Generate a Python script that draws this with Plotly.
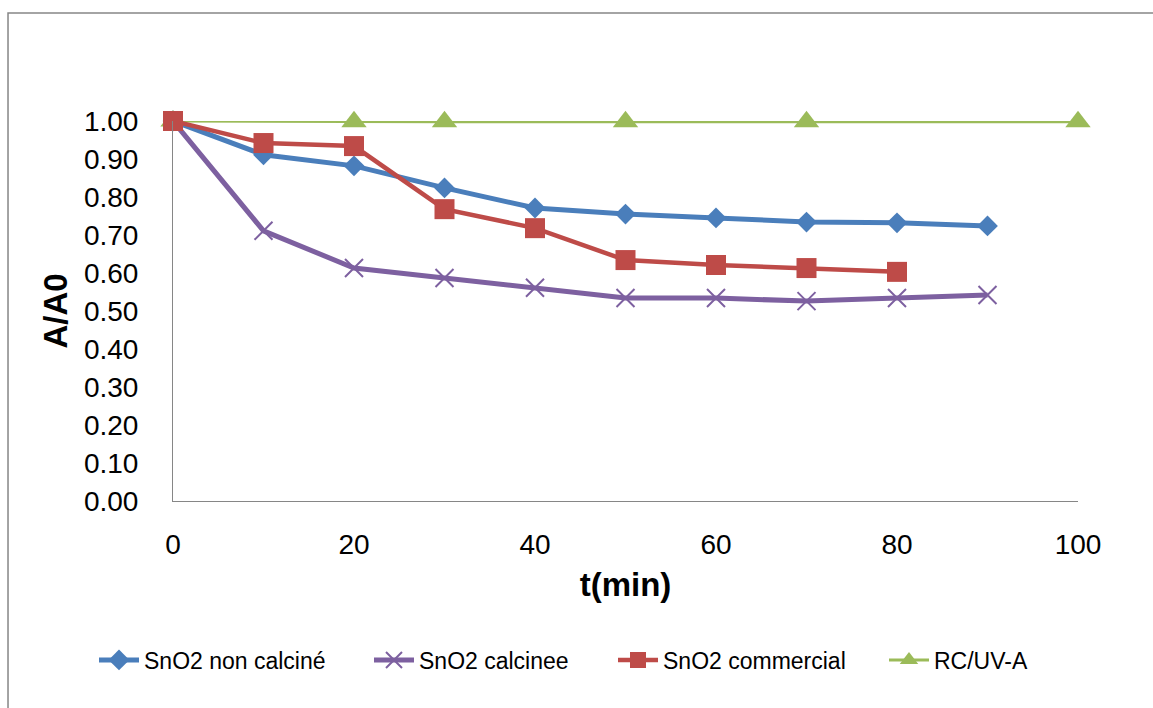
import plotly.graph_objects as go

t_main = [0, 10, 20, 30, 40, 50, 60, 70, 80, 90]
t_comm = [0, 10, 20, 30, 40, 50, 60, 70, 80]
t_rc = [0, 20, 30, 50, 70, 100]

non_calcine = [1.00, 0.911, 0.882, 0.824, 0.771, 0.755, 0.745, 0.734, 0.732, 0.724]
calcinee = [1.00, 0.711, 0.613, 0.587, 0.561, 0.534, 0.534, 0.526, 0.534, 0.542]
commercial = [1.00, 0.942, 0.934, 0.768, 0.718, 0.634, 0.621, 0.613, 0.603]
rc_uva = [1.00, 0.998, 0.998, 0.998, 0.998, 0.998]

names = ["SnO2 non calciné", "SnO2 calcinee", "SnO2 commercial", "RC/UV-A"]
xticks = [0, 20, 40, 60, 80, 100]
yticks = [i / 10 for i in range(11)]

FONT = "Liberation Sans, Arial, sans-serif"
W, H = 1153, 708

fig = go.Figure()
fig.add_trace(go.Scatter(x=t_rc, y=rc_uva, name=names[3], mode="lines+markers",
                         line=dict(color="#9BBB59", width=3),
                         marker=dict(symbol="triangle-up", size=22, color="#9BBB59"),
                         cliponaxis=False, legend="legend4"))
fig.add_trace(go.Scatter(x=t_main, y=non_calcine, name=names[0], mode="lines+markers",
                         line=dict(color="#4A7EBB", width=5),
                         marker=dict(symbol="diamond", size=16, color="#4A7EBB"),
                         cliponaxis=False, legend="legend"))
fig.add_trace(go.Scatter(x=t_main, y=calcinee, name=names[1], mode="lines+markers",
                         line=dict(color="#7D60A0", width=5),
                         marker=dict(symbol="x-thin", size=18, color="#7D60A0",
                                     line=dict(color="#7D60A0", width=2)),
                         cliponaxis=False, legend="legend2"))
fig.add_trace(go.Scatter(x=t_comm, y=commercial, name=names[2], mode="lines+markers",
                         line=dict(color="#BE4B48", width=4.5),
                         marker=dict(symbol="square", size=20, color="#BE4B48"),
                         cliponaxis=False, legend="legend3"))

legend_left_px = [102, 377, 621, 892]


def leg(px):
    return dict(orientation="h", xref="container", yref="container",
                x=(px - 8) / W, xanchor="left", y=1 - 660 / H, yanchor="middle",
                font=dict(size=23, family=FONT), itemwidth=40,
                bgcolor="rgba(0,0,0,0)")


fig.update_layout(
    width=W, height=H,
    margin=dict(l=173, r=75, t=121, b=207),
    paper_bgcolor="white", plot_bgcolor="white",
    font=dict(family=FONT, color="black"),
    showlegend=True,
    legend=leg(legend_left_px[0]),
    legend2=leg(legend_left_px[1]),
    legend3=leg(legend_left_px[2]),
    legend4=leg(legend_left_px[3]),
    xaxis=dict(range=[0, 100], tickvals=xticks, ticktext=[str(v) for v in xticks],
               showgrid=False, zeroline=False, showline=True, linecolor="#868686",
               linewidth=1, ticks="", tickfont=dict(size=28), ticklabelstandoff=18,
               automargin=False,
               title=dict(text="<b>t(min)</b>", font=dict(size=33), standoff=14)),
    yaxis=dict(range=[0, 1.0], tickvals=yticks, tickformat=".2f",
               showgrid=False, zeroline=False, showline=True, linecolor="#868686",
               linewidth=1, ticks="", tickfont=dict(size=28), ticklabelstandoff=28,
               automargin=False,
               title=dict(text="<b>A/A0</b>", font=dict(size=33), standoff=6)),
)

# outer chart border (extends past the right/bottom edges as in the reference)
fig.add_shape(type="rect", xref="paper", yref="paper",
              x0=-0.1823, x1=1.095, y0=-0.57, y1=1.2842,
              line=dict(color="#868686", width=1.5), fillcolor="rgba(0,0,0,0)",
              layer="below")

fig.write_html("out.html")
